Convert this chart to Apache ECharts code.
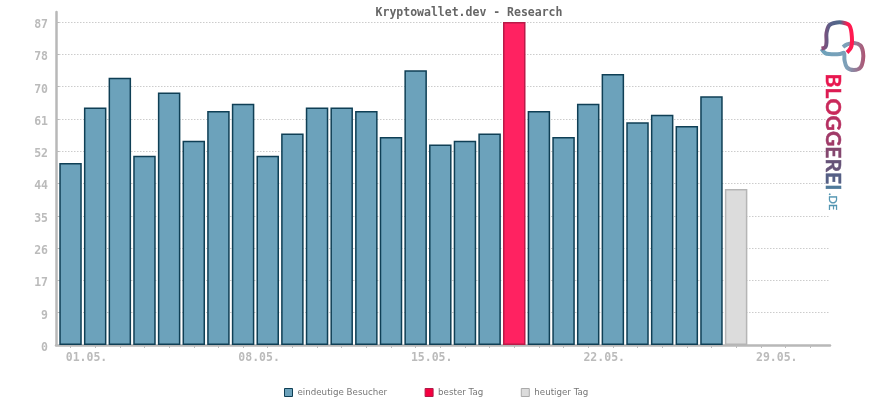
<!DOCTYPE html>
<html><head><meta charset="utf-8">
<style>html,body{margin:0;padding:0;background:#fff}#c{width:870px;height:400px}</style>
<script src="https://cdn.jsdelivr.net/npm/echarts@6/dist/echarts.min.js"></script>
</head><body><div id="c"></div>
<script>
const categories = ['01.05.','02.05.','03.05.','04.05.','05.05.','06.05.','07.05.','08.05.','09.05.','10.05.','11.05.','12.05.','13.05.','14.05.','15.05.','16.05.','17.05.','18.05.','19.05.','20.05.','21.05.','22.05.','23.05.','24.05.','25.05.','26.05.','27.05.','28.05.','29.05.','30.05.','31.05.'];
const visitors = [49,64,72,51,68,55,63,65,51,57,64,64,63,56,74,54,55,57,null,63,56,65,73,60,62,59,67,null,null,null,null];
const bestDay = [null,null,null,null,null,null,null,null,null,null,null,null,null,null,null,null,null,null,87,null,null,null,null,null,null,null,null,null,null,null,null];
const today = [null,null,null,null,null,null,null,null,null,null,null,null,null,null,null,null,null,null,null,null,null,null,null,null,null,null,null,42,null,null,null];
const yTickValues = [0,8.7,17.4,26.1,34.8,43.5,52.2,60.9,69.6,78.3,87];
const yTickLabels = ['0','9','17','26','35','44','52','61','70','78','87'];
const seriesNames = ['eindeutige Besucher','bester Tag','heutiger Tag'];
const logoWord = 'BLOGGEREI';
const logoWordColors = ['#e8174f','#dc1c53','#c9285a','#b53061','#a03a68','#84476f','#665378','#555f85','#4f7a9a'];

const MONO = '"DejaVu Sans Mono", monospace';
const chart = echarts.init(document.getElementById('c'), null, {renderer:'canvas'});
const G = echarts.graphic.LinearGradient;

// letters of the logo, stepped by their measured widths
const mc = document.createElement('canvas').getContext('2d');
const logoFont = '700 21px Lato';
mc.font = logoFont;
const adv = [...logoWord].map(ch => mc.measureText(ch).width);
const spare = (117 - adv.reduce((a,b)=>a+b,0)) / (logoWord.length - 1);
let yy = 73.5;
const letters = [...logoWord].map((ch,i) => {
  const el = {type:'text', x:832.5, y:yy, rotation:-Math.PI/2, z:10,
    style:{text:ch, font:logoFont, fill:logoWordColors[i], stroke:logoWordColors[i], lineWidth:0.5, align:'left', verticalAlign:'middle'}};
  yy += adv[i] + spare;
  return el;
});

const mk = (name,data,fill,border) => ({
  name, type:'bar', data, xAxisIndex:1, yAxisIndex:1, barWidth:22.5, barGap:'-100%',
  itemStyle:{color:fill,borderColor:border,borderWidth:1.5}, emphasis:{disabled:true}, z:3, animation:false
});

chart.setOption({
  animation:false,
  backgroundColor:'#fff',
  title:{text:'Kryptowallet.dev - Research', left:464, top:2, textAlign:'center',
    textStyle:{fontFamily:MONO,fontSize:11.5,fontWeight:'bold',color:'#666'}},
  legend:{left:279, top:383, itemWidth:8, itemHeight:8, itemGap:37.5,
    textStyle:{fontFamily:'"DejaVu Sans"',fontSize:8.7,color:'#777'},
    data:[
      {name:seriesNames[0],icon:'rect',itemStyle:{color:'#6ca2bb',borderColor:'#0f3f55',borderWidth:1}},
      {name:seriesNames[1],icon:'rect',itemStyle:{color:'#f5003f',borderColor:'#b01a48',borderWidth:1}},
      {name:seriesNames[2],icon:'rect',itemStyle:{color:'#dcdcdc',borderColor:'#aaa',borderWidth:1}}
    ]},
  grid:[
    {left:56, right:40, top:12, bottom:55},
    {left:58.2, width:764.2, top:12, bottom:55}
  ],
  xAxis:[
    {type:'category', gridIndex:0, data:[''], z:1, axisTick:{show:false}, axisLabel:{show:false},
      axisLine:{lineStyle:{color:'#b8b8b8',width:2.5}}, splitLine:{show:false}},
    {type:'category', gridIndex:1, data:categories, z:4,
      axisLine:{show:false},
      axisTick:{show:true,alignWithLabel:true,length:3,interval:0,lineStyle:{color:'#bbb',width:1}},
      axisLabel:{interval:6,margin:7,padding:[0,0,0,32],fontFamily:MONO,fontSize:11.5,fontWeight:'bold',color:'#bbb',hideOverlap:false},
      splitLine:{show:false}}
  ],
  yAxis:[
    {type:'value', gridIndex:0, min:0, max:89.7, interval:8.7, z:1,
      axisLine:{show:true,lineStyle:{color:'#b8b8b8',width:2.5}},
      axisTick:{show:true,inside:true,length:3,lineStyle:{color:'#bbb'}},
      axisLabel:{margin:8,verticalAlign:'top',lineHeight:6,fontFamily:MONO,fontSize:11.5,fontWeight:'bold',color:'#bbb',showMaxLabel:false,
        formatter:v=>{const i=yTickValues.findIndex(t=>Math.abs(t-v)<0.01);return i<0?'':yTickLabels[i];}},
      splitLine:{show:true,showMinLine:false,showMaxLine:false,lineStyle:{color:'#ccc',type:[1.5,1.5],width:1}}},
    {type:'value', gridIndex:1, min:0, max:89.7, interval:8.7, show:false, splitLine:{show:false}}
  ],
  series:[
    mk(seriesNames[0],visitors,'#6ca2bb','#0f3f55'),
    mk(seriesNames[1],bestDay,'#ff2261','#b81b48'),
    mk(seriesNames[2],today,'#dcdcdc','#b5b5b5')
  ],
  graphic:[
    {type:'polyline', z:10, shape:{smooth:0.35,points:[[821.5,48.5],[825.5,47],[826.5,42],[826.5,33],[829.5,25],[837,22.5],[842,22.5],[849,25],[851.5,33],[851.5,46],[847,52.5]]},
      style:{fill:null,lineWidth:4,stroke:new G(0,0,1,0,[{offset:0,color:'#a5406f'},{offset:.3,color:'#5a5f88'},{offset:.6,color:'#4f6a8a'},{offset:.8,color:'#ff1a50'},{offset:1,color:'#ff1a50'}])}},
    {type:'polyline', z:9, shape:{smooth:0.35,points:[[821.5,49],[825,53],[829,54],[840,54],[844,53],[844.5,60],[847,67.5],[854,70],[860.5,67.5],[863,60],[863,52],[860.5,45.5],[854,43],[847,44.5],[843,47]]},
      style:{fill:null,lineWidth:4,stroke:new G(0,0,1,0,[{offset:0,color:'#6ca2bb'},{offset:.6,color:'#7ea0b8'},{offset:1,color:'#b0506f'}])}},
    ...letters,
    {type:'text', x:833, y:193, rotation:-Math.PI/2, z:10,
      style:{text:'.DE', font:'400 11px Lato', fill:'#4f93b0', stroke:'#4f93b0', lineWidth:0.3, align:'left', verticalAlign:'middle'}}
  ]
});
</script></body></html>
